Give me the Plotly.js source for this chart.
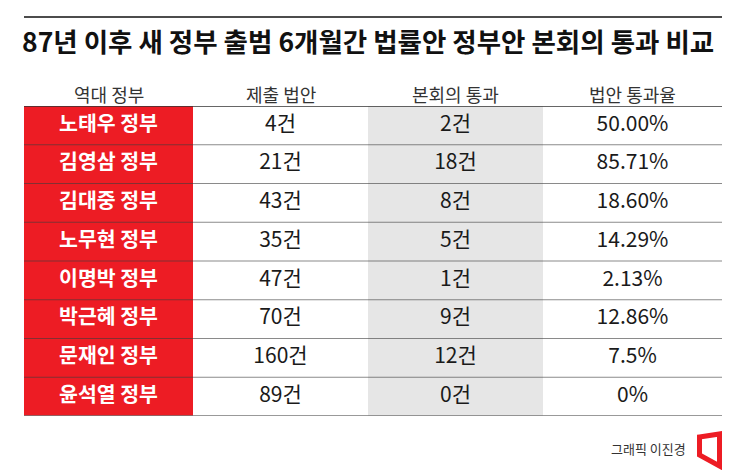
<!DOCTYPE html>
<html>
<head>
<meta charset="utf-8">
<script src="https://cdn.plot.ly/plotly-3.0.1.min.js"></script>
<style>
  html, body { margin: 0; padding: 0; background: #fff; }
  #chart { width: 745px; height: 470px; }
</style>
</head>
<body>
<div id="chart"></div>
<script>
// 데이터
const titleText = '87년 이후 새 정부 출범 6개월간 법률안 정부안 본회의 통과 비교';
const headers = ['역대 정부', '제출 법안', '본회의 통과', '법안 통과율'];
const governments = ['노태우 정부', '김영삼 정부', '김대중 정부', '노무현 정부', '이명박 정부', '박근혜 정부', '문재인 정부', '윤석열 정부'];
const submitted = [4, 21, 43, 35, 47, 70, 160, 89];
const passed = [2, 18, 8, 5, 1, 9, 12, 0];
const passRate = ['50.00%', '85.71%', '18.60%', '14.29%', '2.13%', '12.86%', '7.5%', '0%'];
const credit = '그래픽 이진경';

// 레이아웃 상수
const W = 745, H = 470;
const M = { l: 24, r: 23, t: 106, b: 54 };
const colEdges = [0, 169, 344, 519, 698];
const RED = '#ed1c24', GRAY = '#e6e6e6';
const FONT = '"Noto Sans CJK KR", "Noto Sans", sans-serif';

const nRows = governments.length;
const rowIdx = governments.map((_, i) => i);
const colMid = colEdges.slice(0, -1).map((e, i) => (e + colEdges[i + 1]) / 2);
const plotW = W - M.l - M.r, plotH = H - M.t - M.b;
const px = x => (x - M.l) / plotW;
const py = y => (H - M.b - y) / plotH;

// 셀 배경 (0=빨강, 1=흰색, 2=회색)
const z = rowIdx.map(() => [0, 1, 2, 1]);
const cells = {
  type: 'heatmap', x: colEdges, y: rowIdx, z: z,
  zmin: 0, zmax: 2, showscale: false, hoverinfo: 'skip',
  colorscale: [[0, RED], [0.33, RED], [0.34, '#ffffff'], [0.66, '#ffffff'], [0.67, GRAY], [1, GRAY]]
};

function textCol(i, vals, color, size, weight) {
  return {
    type: 'scatter', mode: 'text', x: rowIdx.map(() => colMid[i]), y: rowIdx,
    text: vals, textposition: 'middle center', hoverinfo: 'skip',
    textfont: { family: FONT, size: size, color: color, weight: weight }
  };
}

const traces = [
  cells,
  textCol(0, governments, '#ffffff', 20.5, 700),
  textCol(1, submitted.map(v => v + '건'), '#1a1a1a', 21, 400),
  textCol(2, passed.map(v => v + '건'), '#1a1a1a', 21, 400),
  textCol(3, passRate, '#1a1a1a', 21, 400)
];

// 가로선
const shapes = [];
for (let i = 1; i < nRows; i++) {
  shapes.push({ type: 'line', xref: 'x', yref: 'y', x0: 0, x1: colEdges[colEdges.length - 1], y0: i - 0.5, y1: i - 0.5,
    line: { color: 'rgba(60,60,60,0.6)', width: 1.2 }, layer: 'above' });
}
shapes.push({ type: 'line', xref: 'x', yref: 'y', x0: 0, x1: colEdges[colEdges.length - 1], y0: -0.5, y1: -0.5,
  line: { color: '#333333', width: 1.6 }, layer: 'above' });
shapes.push({ type: 'line', xref: 'x', yref: 'y', x0: 0, x1: colEdges[colEdges.length - 1], y0: nRows - 0.5, y1: nRows - 0.5,
  line: { color: '#777777', width: 1.6 }, layer: 'above' });
// 제목 위 선
shapes.push({ type: 'line', xref: 'paper', yref: 'paper', x0: 0, x1: 1, y0: py(17), y1: py(17),
  line: { color: '#111111', width: 1.6 } });
// 로고
shapes.push({ type: 'path', xref: 'paper', yref: 'paper',
  path: `M ${px(699.5)} ${py(437)} L ${px(719.5)} ${py(434)} L ${px(719.5)} ${py(466)} L ${px(699.5)} ${py(455)} Z`,
  line: { color: RED, width: 5 }, fillcolor: 'rgba(0,0,0,0)' });

const annotations = headers.map((h, i) => ({
  xref: 'x', yref: 'paper', x: colMid[i], y: py(94), text: h, showarrow: false,
  xanchor: 'center', yanchor: 'middle', font: { family: FONT, size: 18, color: '#333333' }
}));
annotations.push({
  xref: 'paper', yref: 'paper', x: px(688), y: py(448), text: credit, showarrow: false,
  xanchor: 'right', yanchor: 'middle', font: { family: FONT, size: 13, color: '#333333' }
});

const layout = {
  width: W, height: H, margin: M,
  paper_bgcolor: '#ffffff', plot_bgcolor: '#ffffff',
  showlegend: false,
  title: {
    text: titleText, x: 22 / W, xanchor: 'left', xref: 'container',
    y: 1 - 43 / H, yanchor: 'middle', yref: 'container',
    font: { family: FONT, size: 26.5, color: '#111111', weight: 700 }
  },
  xaxis: { range: [colEdges[0], colEdges[colEdges.length - 1]], visible: false, fixedrange: true },
  yaxis: { range: [nRows - 0.5, -0.5], visible: false, fixedrange: true },
  shapes: shapes,
  annotations: annotations
};

Plotly.newPlot('chart', traces, layout, { displayModeBar: false, staticPlot: true });
</script>
</body>
</html>
